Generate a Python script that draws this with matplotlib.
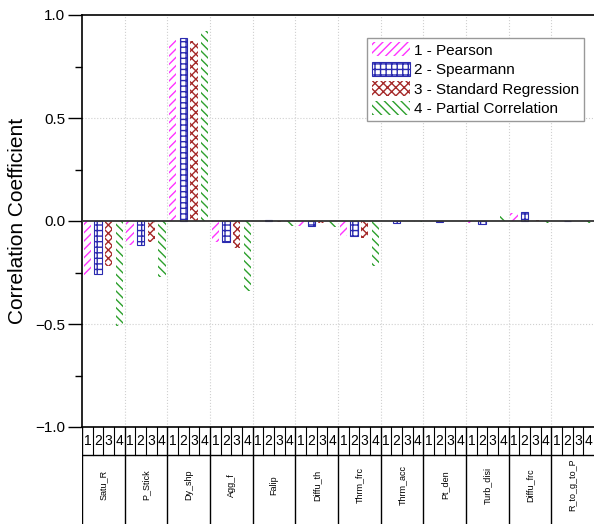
import matplotlib.pyplot as plt
import numpy as np

plt.rcParams['font.family'] = ['Liberation Sans', 'DejaVu Sans']
plt.rcParams['hatch.linewidth'] = 1.0

# Correlation coefficients per parameter for each method
params = ['Satu_R', 'P_Stick', 'Dy_shp', 'Agg_f', 'Falip', 'Diffu_th',
          'Thrm_frc', 'Thrm_acc', 'Pt_den', 'Turb_disi', 'Diffu_frc', 'R_to_g_to_P']
methods = ['1 - Pearson', '2 - Spearmann', '3 - Standard Regression', '4 - Partial Correlation']
pearson = [-0.26, -0.115, 0.88, -0.10, 0.0, -0.025, -0.075, 0.0, 0.0, -0.01, 0.037, 0.0]
spearmann = [-0.255, -0.115, 0.89, -0.10, 0.005, -0.025, -0.075, -0.01, -0.006, -0.015, 0.045, 0.0]
std_regression = [-0.22, -0.10, 0.875, -0.13, -0.005, -0.008, -0.083, 0.0, 0.0, 0.0, 0.003, 0.0]
partial_corr = [-0.51, -0.27, 0.92, -0.34, -0.025, -0.028, -0.22, -0.003, 0.0, 0.024, -0.008, -0.008]
slot_labels = ['1', '2', '3', '4']

series = [pearson, spearmann, std_regression, partial_corr]
colors = ['#ff33ff', '#2b2bb0', '#a52a2a', '#2ca02c']
hatches = ['////', '+++', 'xxxx', '\\\\\\\\']
edge_widths = [0, 0.8, 0, 0]

fig = plt.figure(figsize=(5.94, 5.24), dpi=100)
W, H = 594, 524
ax = fig.add_axes([82 / W, (H - 427) / H, 512 / W, 412 / H])

x = np.arange(1, len(params) + 1)
slot = 0.25
bar_w = 0.17
for i, (vals, c, h, lw) in enumerate(zip(series, colors, hatches, edge_widths)):
    pos = x - 0.5 + slot * (i + 0.5)
    ax.bar(pos, vals, bar_w, facecolor='none', edgecolor=c, hatch=h,
           linewidth=lw, label=methods[i], zorder=3)

ax.set_xlim(0.5, len(params) + 0.5)
ax.set_ylim(-1.0, 1.0)
ax.axhline(0, color='#333333', lw=1.3, zorder=4)

# dotted grid at group boundaries and half steps
for b in np.arange(1.5, len(params), 1.0):
    ax.axvline(b, color='#d0d0d0', ls=':', lw=0.8, zorder=1)
for yv in [-0.5, 0.5]:
    ax.axhline(yv, color='#d0d0d0', ls=':', lw=0.8, zorder=1)

ax.set_yticks([-1.0, -0.5, 0.0, 0.5, 1.0])
ax.set_yticklabels(['\u22121.0', '\u22120.5', '0.0', '0.5', '1.0'])
ax.set_yticks(np.arange(-0.75, 1.0, 0.5), minor=True)
ax.tick_params(axis='y', which='major', direction='out', length=10, width=1,
               labelsize=11, pad=2)
ax.tick_params(axis='y', which='minor', direction='out', length=5, width=1)
ax.set_xticks([])
ax.spines['right'].set_visible(False)
for s in ['left', 'top', 'bottom']:
    ax.spines[s].set_linewidth(1.2)

ax.set_ylabel('Correlation Coefficient', fontsize=15)
ax.yaxis.set_label_coords(-0.108, 0.5)

leg = ax.legend(loc='upper right', bbox_to_anchor=(0.98, 0.945), borderaxespad=0,
                fontsize=11, fancybox=False, edgecolor='#999999', framealpha=1,
                handlelength=2.5, handleheight=1.05, handletextpad=0.25,
                labelspacing=0.28, borderpad=0.3)
leg.get_frame().set_linewidth(1.0)

# table of slot numbers and parameter names under the plot
tab = fig.add_axes([82 / W, 0, 512 / W, 97 / H])
tab.set_xlim(0.5, len(params) + 0.5)
tab.set_ylim(97, 0)
tab.axis('off')
tab.axvline(0.5, color='black', lw=1.2)
tab.axhline(28, color='black', lw=1.0)
for g in x:
    left = g - 0.5
    tab.plot([left, left], [0, 97], color='black', lw=1.0)
    for k in range(1, 4):
        xs = left + k * slot
        tab.plot([xs, xs], [0, 28], color='black', lw=0.8)
    for k, lab in enumerate(slot_labels):
        tab.text(left + slot * (k + 0.5), 14, lab, ha='center', va='center',
                 fontsize=10)
    tab.text(g, 58, params[g - 1], rotation=90, ha='center', va='center',
             fontsize=6.5)

fig.savefig('out.png', dpi=100)
